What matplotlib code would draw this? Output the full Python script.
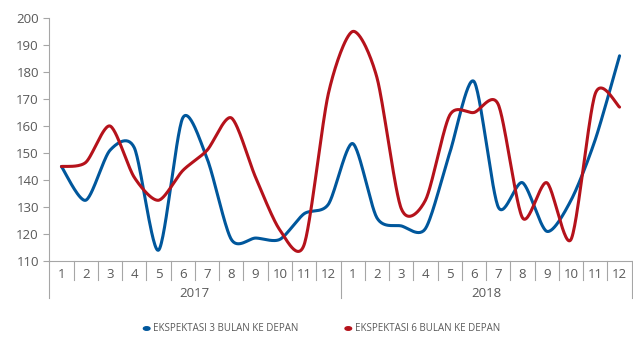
import numpy as np
import matplotlib
matplotlib.use("Agg")
import matplotlib.pyplot as plt
from matplotlib import transforms

months = [str(m) for m in range(1, 13)] * 2
years = ["2017", "2018"]
blue_vals = [145, 132.5, 151, 152, 114, 163, 148, 118, 118.5, 118, 127.5, 131,
             153.5, 126, 123, 122, 150, 176.5, 130, 139, 121, 132.5, 155, 186]
red_vals = [145, 146.5, 160, 141, 132.5, 143.5, 151, 163, 141, 121.5, 116, 172,
            195, 178, 129.5, 132.5, 164, 165, 168, 126, 139, 118, 172, 167]
series_names = ["EKSPEKTASI 3 BULAN KE DEPAN", "EKSPEKTASI 6 BULAN KE DEPAN"]
colors = ["#00579C", "#B5121B"]

plt.rcParams['font.family'] = ['Open Sans', 'DejaVu Sans']


def smooth(x, y, n=30, k=7.5):
    x = np.asarray(x, float)
    y = np.asarray(y, float)
    xs, ys = [], []
    N = len(x)
    for i in range(N - 1):
        p0 = np.array([x[max(i - 1, 0)], y[max(i - 1, 0)]])
        p1 = np.array([x[i], y[i]])
        p2 = np.array([x[i + 1], y[i + 1]])
        p3 = np.array([x[min(i + 2, N - 1)], y[min(i + 2, N - 1)]])
        c1 = p1 + (p2 - p0) / k
        c2 = p2 - (p3 - p1) / k
        t = np.linspace(0, 1, n, endpoint=(i == N - 2))[:, None]
        pts = ((1 - t) ** 3) * p1 + 3 * ((1 - t) ** 2) * t * c1 + 3 * (1 - t) * t ** 2 * c2 + t ** 3 * p2
        xs.append(pts[:, 0])
        ys.append(pts[:, 1])
    return np.concatenate(xs), np.concatenate(ys)


W, H = 633, 338
fig = plt.figure(figsize=(W / 100, H / 100), dpi=100)
left, right, top, bottom = 49.3, 631.7, 18, 261
ax = fig.add_axes([left / W, 1 - bottom / H, (right - left) / W, (bottom - top) / H])

x = np.arange(1, len(months) + 1)
for vals, c, name in zip([blue_vals, red_vals], colors, series_names):
    sx, sy = smooth(x, vals)
    ax.plot(sx, sy, color=c, lw=2.2, solid_capstyle='round', label=name)

ax.set_xlim(0.5, len(months) + 0.5)
ax.set_ylim(110, 200)
ax.set_yticks(np.arange(110, 201, 10))
axis_col = "#A6A6A6"
text_col = "#595959"
ax.tick_params(axis='y', length=4.5, width=0.8, color=axis_col, labelcolor=text_col,
               labelsize=9.5, pad=3)
ax.set_xticks([])
for s in ['top', 'right']:
    ax.spines[s].set_visible(False)
for s in ['left', 'bottom']:
    ax.spines[s].set_color(axis_col)
    ax.spines[s].set_linewidth(0.8)

tr = transforms.blended_transform_factory(ax.transData, fig.transFigure)


def fy(py):
    return 1 - py / H


# month separators
for i in range(len(months) + 1):
    xb = i + 0.5
    if i % 12 == 0:
        y1 = 298
    else:
        y1 = 280
    ax.plot([xb, xb], [fy(bottom), fy(y1)], color=axis_col, lw=0.8, transform=tr, clip_on=False)

for i, m in enumerate(months):
    ax.text(i + 1, fy(274.5), m, transform=tr, ha='center', va='center', fontsize=9.5, color=text_col)

for j, yr in enumerate(years):
    ax.text(12 * j + 6.5, fy(293.5), yr, transform=tr, ha='center', va='center', fontsize=9.5, color=text_col)

# legend
leg_x = [146.7, 348.3]
for lx, c, name in zip(leg_x, colors, series_names):
    fig.patches.append(matplotlib.patches.Circle((lx / W, fy(328.5)), radius=3.3 / W, transform=fig.transFigure,
                                                 color=c))
    fig.text((lx + 6.5) / W, fy(328.5), name, ha='left', va='center', fontsize=7, color=text_col)

fig.savefig("out.png", dpi=100)
